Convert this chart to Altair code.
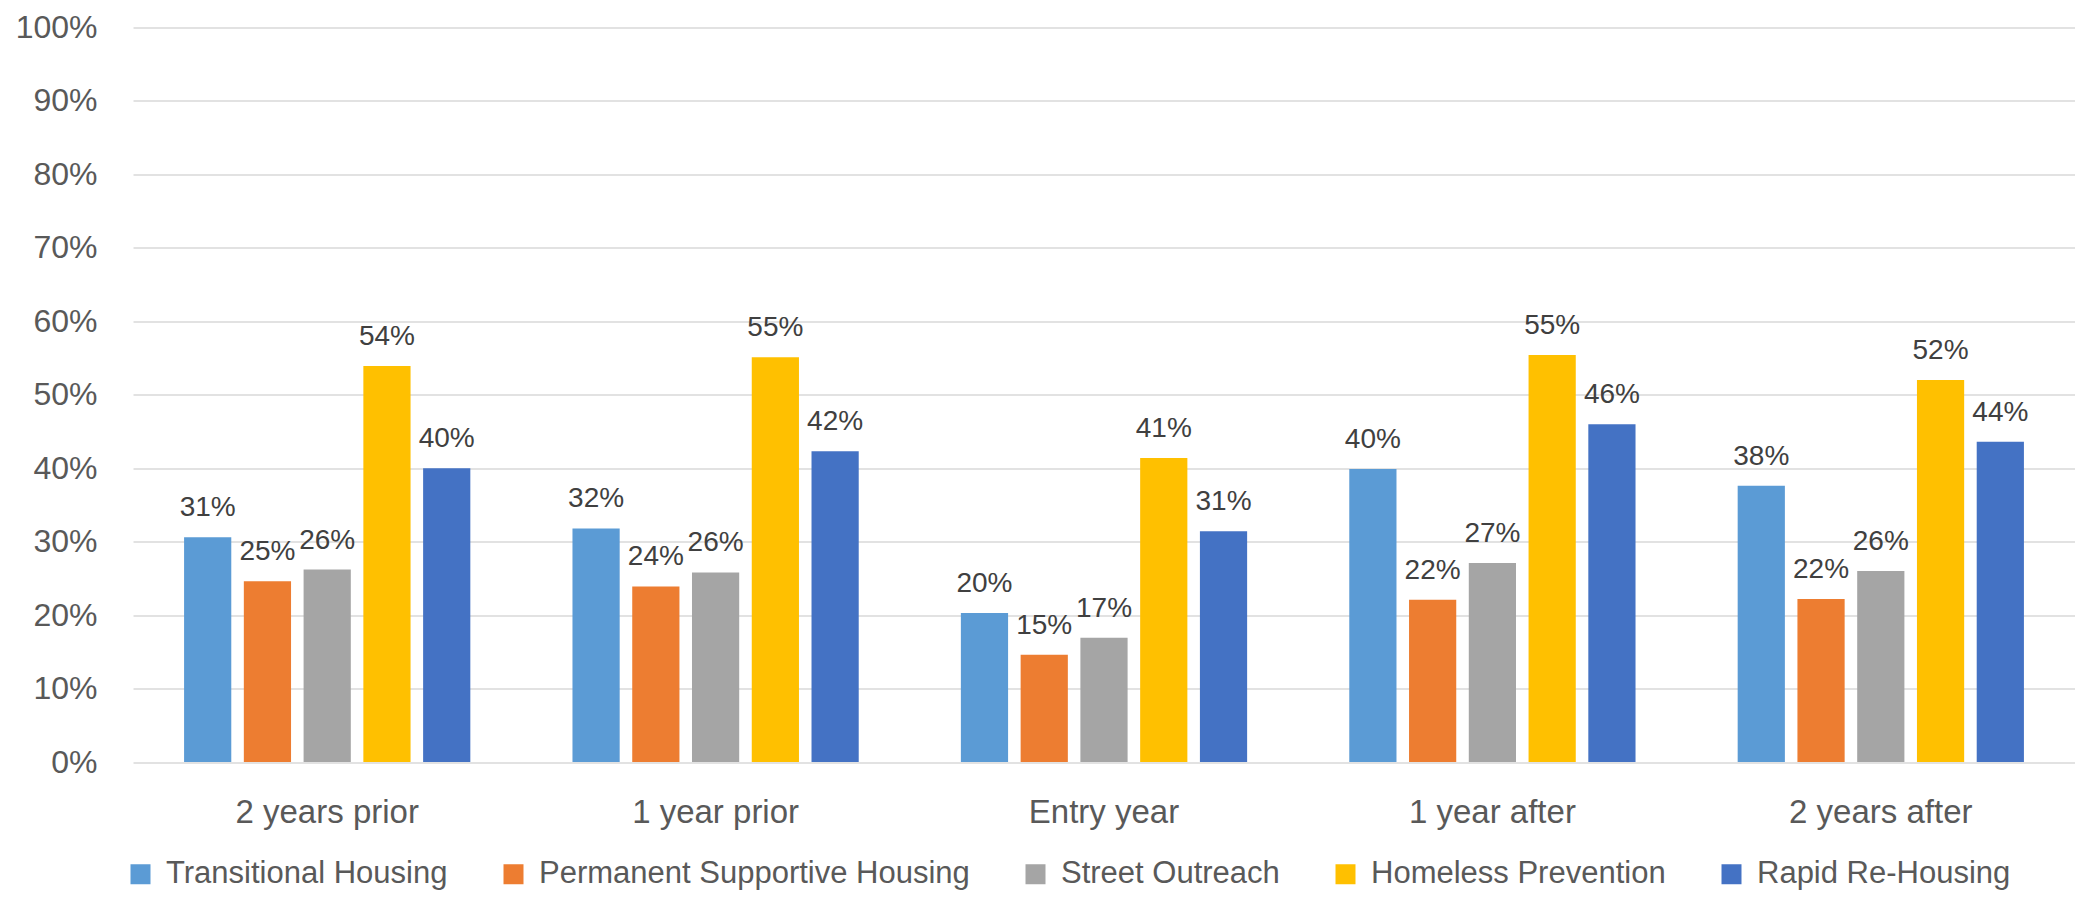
import altair as alt
import pandas as pd

periods = ["2 years prior", "1 year prior", "Entry year", "1 year after", "2 years after"]
programs = [
    "Transitional Housing",
    "Permanent Supportive Housing",
    "Street Outreach",
    "Homeless Prevention",
    "Rapid Re-Housing",
]
transitional = [0.306, 0.318, 0.203, 0.399, 0.376]
permanent = [0.246, 0.239, 0.146, 0.221, 0.222]
street = [0.262, 0.258, 0.169, 0.271, 0.260]
prevention = [0.539, 0.551, 0.414, 0.554, 0.520]
rapid = [0.400, 0.423, 0.314, 0.460, 0.436]
colors = ["#5B9BD5", "#ED7D31", "#A5A5A5", "#FFC000", "#4472C4"]
y_ticks = [0, 0.1, 0.2, 0.3, 0.4, 0.5, 0.6, 0.7, 0.8, 0.9, 1.0]

series = [transitional, permanent, street, prevention, rapid]
rows = []
for prog, vals in zip(programs, series):
    for per, v in zip(periods, vals):
        rows.append({"period": per, "program": prog, "value": v})
df = pd.DataFrame(rows)

FONT = "Liberation Sans"

base = alt.Chart(df).encode(
    x=alt.X(
        "period:N",
        sort=periods,
        scale=alt.Scale(paddingInner=0.263, paddingOuter=0.1315),
        axis=alt.Axis(
            title=None,
            labelAngle=0,
            labelFont=FONT,
            labelFontSize=33,
            labelColor="#595959",
            labelPadding=34,
            labelLimit=1000,
            ticks=False,
            domain=False,
            grid=False,
        ),
    ),
    xOffset=alt.XOffset(
        "program:N",
        sort=programs,
        scale=alt.Scale(paddingInner=0.21, paddingOuter=0),
    ),
    y=alt.Y(
        "value:Q",
        scale=alt.Scale(domain=[0, 1], nice=False, zero=True),
        axis=alt.Axis(
            title=None,
            values=y_ticks,
            format=".0%",
            labelFont=FONT,
            labelFontSize=32,
            labelColor="#595959",
            labelPadding=36,
            ticks=False,
            domain=False,
            grid=True,
            gridColor="#D9D9D9",
            gridWidth=1.3,
        ),
    ),
)

bars = base.mark_bar().encode(
    color=alt.Color(
        "program:N",
        sort=programs,
        scale=alt.Scale(domain=programs, range=colors),
        legend=alt.Legend(
            title=None,
            orient="none",
            legendX=-8,
            legendY=831,
            direction="horizontal",
            columns=5,
            symbolType="square",
            symbolSize=400,
            symbolStrokeWidth=0,
            labelFont=FONT,
            labelFontSize=31,
            labelColor="#595959",
            labelOffset=10,
            labelLimit=1000,
            columnPadding=50,
            padding=0,
        ),
    )
)

labels = base.mark_text(
    baseline="alphabetic",
    dy=-21,
    font=FONT,
    fontSize=28,
    color="#404040",
).encode(text=alt.Text("value:Q", format=".0%"))

chart = (
    alt.layer(bars, labels)
    .properties(
        width=1942,
        height=734.5,
        padding={"left": 125, "top": 19.5, "right": 0, "bottom": 128},
        autosize=alt.AutoSizeParams(type="none"),
        background="white",
    )
    .configure_view(stroke=None)
)

chart.save("out.html", embed_options={"renderer": "svg", "actions": False})
